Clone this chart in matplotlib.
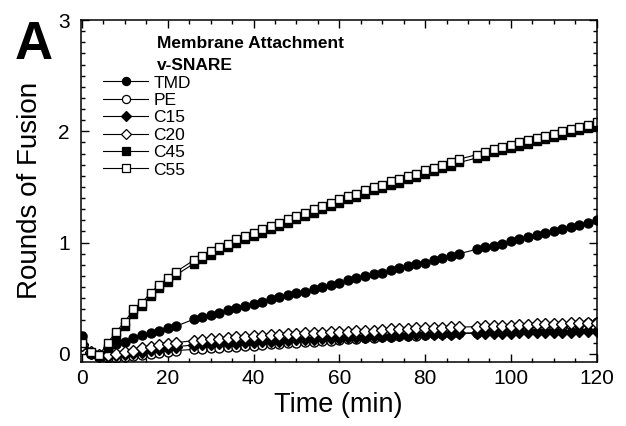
import matplotlib
matplotlib.use("Agg")
import matplotlib.pyplot as plt
from matplotlib.lines import Line2D
from matplotlib.ticker import MultipleLocator

plt.rcParams['font.family'] = ['Liberation Sans', 'DejaVu Sans']

time_min = [0, 2, 4, 6, 8, 10, 12, 14, 16, 18, 20, 22,
            26, 28, 30, 32, 34, 36, 38, 40, 42, 44, 46, 48, 50, 52, 54, 56, 58,
            60, 62, 64, 66, 68, 70, 72, 74, 76, 78, 80, 82, 84, 86, 88,
            92, 94, 96, 98, 100, 102, 104, 106, 108, 110, 112, 114, 116, 118, 120]

tmd = [0.16, 0.02, -0.01, 0.05, 0.09, 0.11, 0.14, 0.17, 0.19, 0.21, 0.23, 0.25,
       0.31, 0.33, 0.35, 0.37, 0.39, 0.41, 0.43, 0.45, 0.47, 0.49, 0.51, 0.53, 0.55, 0.56, 0.58, 0.60, 0.62,
       0.64, 0.66, 0.68, 0.70, 0.72, 0.73, 0.75, 0.77, 0.79, 0.81, 0.82, 0.84, 0.86, 0.88, 0.90,
       0.94, 0.96, 0.97, 0.99, 1.01, 1.03, 1.05, 1.07, 1.09, 1.10, 1.12, 1.14, 1.16, 1.18, 1.20]

pe = [0.08, 0.00, -0.03, -0.04, -0.04, -0.03, -0.02, -0.01, 0.00, 0.01, 0.02, 0.03,
      0.04, 0.045, 0.05, 0.055, 0.06, 0.065, 0.07, 0.075, 0.08, 0.085, 0.09, 0.095, 0.10, 0.105, 0.11, 0.115, 0.12,
      0.125, 0.13, 0.135, 0.14, 0.145, 0.15, 0.155, 0.16, 0.16, 0.165, 0.17, 0.175, 0.18, 0.18, 0.185,
      0.19, 0.195, 0.20, 0.205, 0.21, 0.215, 0.22, 0.23, 0.235, 0.245, 0.25, 0.26, 0.27, 0.28, 0.29]

c15 = [0.09, 0.01, -0.02, -0.02, -0.01, 0.00, 0.01, 0.02, 0.035, 0.045, 0.055, 0.065,
       0.08, 0.085, 0.09, 0.095, 0.10, 0.10, 0.105, 0.11, 0.115, 0.12, 0.12, 0.125, 0.13, 0.13, 0.135, 0.14, 0.14,
       0.145, 0.15, 0.15, 0.155, 0.16, 0.16, 0.165, 0.17, 0.17, 0.175, 0.175, 0.18, 0.18, 0.18, 0.185,
       0.185, 0.19, 0.19, 0.19, 0.19, 0.195, 0.195, 0.195, 0.20, 0.20, 0.20, 0.20, 0.205, 0.205, 0.205]

c20 = [0.08, 0.02, -0.01, -0.01, 0.00, 0.015, 0.03, 0.05, 0.065, 0.08, 0.09, 0.10,
       0.12, 0.125, 0.13, 0.135, 0.14, 0.15, 0.155, 0.16, 0.165, 0.17, 0.17, 0.175, 0.18, 0.185, 0.19, 0.19, 0.195,
       0.20, 0.20, 0.205, 0.21, 0.21, 0.215, 0.22, 0.22, 0.225, 0.23, 0.23, 0.235, 0.235, 0.24, 0.24,
       0.245, 0.25, 0.25, 0.255, 0.255, 0.26, 0.26, 0.265, 0.265, 0.27, 0.27, 0.275, 0.275, 0.28, 0.28]

c45 = [0.14, 0.01, -0.02, 0.05, 0.15, 0.25, 0.36, 0.43, 0.52, 0.59, 0.65, 0.71,
       0.81, 0.85, 0.89, 0.93, 0.96, 1.00, 1.03, 1.06, 1.09, 1.12, 1.15, 1.18, 1.21, 1.24, 1.27, 1.30, 1.33,
       1.36, 1.39, 1.41, 1.44, 1.47, 1.49, 1.52, 1.54, 1.57, 1.59, 1.62, 1.64, 1.67, 1.69, 1.72,
       1.76, 1.78, 1.81, 1.83, 1.85, 1.87, 1.89, 1.91, 1.93, 1.95, 1.97, 1.99, 2.01, 2.03, 2.05]

c55 = [0.10, 0.02, -0.01, 0.10, 0.20, 0.29, 0.40, 0.46, 0.55, 0.62, 0.68, 0.74,
       0.84, 0.88, 0.92, 0.96, 0.99, 1.03, 1.06, 1.09, 1.12, 1.15, 1.18, 1.21, 1.24, 1.27, 1.30, 1.33, 1.36,
       1.39, 1.42, 1.44, 1.47, 1.50, 1.52, 1.55, 1.57, 1.60, 1.62, 1.65, 1.67, 1.70, 1.72, 1.75,
       1.79, 1.81, 1.84, 1.86, 1.88, 1.90, 1.92, 1.94, 1.96, 1.98, 2.00, 2.02, 2.04, 2.06, 2.08]

labels = ['TMD', 'PE', 'C15', 'C20', 'C45', 'C55']
series = [tmd, pe, c15, c20, c45, c55]
markers = ['o', 'o', 'D', 'D', 's', 's']
filled = [True, False, True, False, True, False]
msizes = [6.5, 6.5, 6, 6, 6, 6]

fig = plt.figure(figsize=(6.26, 4.26), dpi=100)
ax = fig.add_axes([0.129, 0.151, 0.824, 0.802])

handles = []
for lab, ys, mk, fl, ms in zip(labels, series, markers, filled, msizes):
    ax.plot(time_min, ys, color='black', lw=0.8, marker=mk, ms=ms,
            mfc='black' if fl else 'white', mec='black', mew=1.0)
    handles.append(Line2D([], [], color='black', lw=0.8, marker=mk, ms=ms * 0.9,
                          mfc='black' if fl else 'white', mec='black', mew=0.9))

ax.set_xlim(-0.3, 120)
ax.set_ylim(-0.07, 3)
ax.xaxis.set_major_locator(MultipleLocator(20))
ax.xaxis.set_minor_locator(MultipleLocator(5))
ax.yaxis.set_major_locator(MultipleLocator(1))
ax.yaxis.set_minor_locator(MultipleLocator(0.1))
ax.tick_params(which='both', direction='in', top=True, right=True, width=1.0)
ax.tick_params(which='major', length=6, labelsize=15)
ax.tick_params(axis='x', which='major', pad=5)
ax.tick_params(axis='y', which='major', pad=8)
ax.tick_params(which='minor', length=3)
for sp in ax.spines.values():
    sp.set_linewidth(1.1)

leg = ax.legend(handles, labels, loc='upper left', bbox_to_anchor=(0.043, 0.838),
                frameon=False, fontsize=12.5, handlelength=2.6, handletextpad=0.3,
                labelspacing=0.13, borderaxespad=0, borderpad=0)

ax.text(0.147, 0.917, 'Membrane Attachment', transform=ax.transAxes,
        fontsize=12.5, fontweight='bold', va='baseline', ha='left')
ax.text(0.147, 0.854, 'v-SNARE', transform=ax.transAxes,
        fontsize=12.5, fontweight='bold', va='baseline', ha='left')

fig.text(0.024, 0.952, 'A', fontsize=38, fontweight='bold', va='top', ha='left')
fig.text(0.048, 0.552, 'Rounds of Fusion', rotation=90, fontsize=20, ha='center', va='center')
fig.text(0.541, 0.05, 'Time (min)', fontsize=19.5, ha='center', va='center')

fig.savefig('out.png', dpi=100)
